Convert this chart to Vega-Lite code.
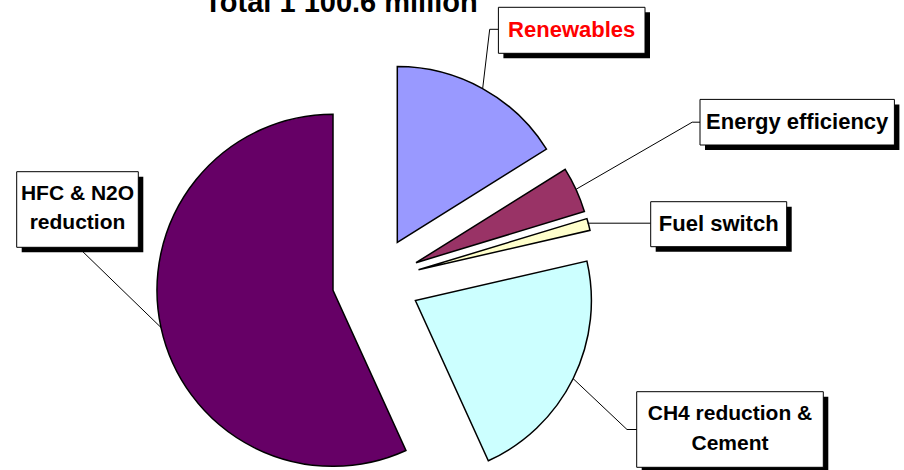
{
  "$schema": "https://vega.github.io/schema/vega-lite/v6.json",
  "width": 752,
  "height": 378,
  "padding": {"left": 0, "top": 92, "right": 152, "bottom": 0},
  "autosize": {"type": "none"},
  "background": "white",
  "config": {"view": {"stroke": null}, "font": "Liberation Sans"},
  "data": {
    "values": [
      {"order": 1, "sector": "Renewables", "share": 16.1},
      {"order": 2, "sector": "Energy efficiency", "share": 4.2},
      {"order": 3, "sector": "Fuel switch", "share": 1.1},
      {"order": 4, "sector": "CH4 reduction &\nCement", "share": 21.8},
      {"order": 5, "sector": "HFC & N2O\nreduction", "share": 56.8}
    ]
  },
  "transform": [
    {"stack": "share", "groupby": [], "sort": [{"field": "order", "order": "ascending"}], "as": ["s0", "s1"]}
  ],
  "layer": [
    {
      "transform": [{"filter": "datum.order === 1"}],
      "layer": [
        {"mark": {"type": "arc", "radius": 176, "xOffset": 21.3, "yOffset": -38.5, "fill": "#9999FF", "stroke": "black", "strokeWidth": 1.5},
         "encoding": {"theta": {"field": "s0", "type": "quantitative", "scale": {"domain": [0, 100]}}, "theta2": {"field": "s1"}}},
        {"mark": {"type": "point", "shape": "M-89,58L-82,-1H-73", "size": 4, "filled": false, "stroke": "black", "strokeWidth": 1, "opacity": 1, "xOffset": 195.7, "yOffset": -250.7}, "encoding": {}},
        {"mark": {"type": "point", "shape": "M-73.3,-23H73.3V23H-73.3Z", "size": 4, "filled": true, "fill": "black", "opacity": 1, "xOffset": 200.7, "yOffset": -245.7}, "encoding": {}},
        {"mark": {"type": "point", "shape": "M-73.3,-23H73.3V23H-73.3Z", "size": 4, "filled": true, "fill": "white", "stroke": "black", "strokeWidth": 1, "opacity": 1, "xOffset": 195.7, "yOffset": -250.7}, "encoding": {}},
        {"mark": {"type": "text", "fontSize": 22, "fontWeight": "bold", "fill": "#FF0000", "lineBreak": "\n", "xOffset": 195.7, "yOffset": -251}, "encoding": {"text": {"field": "sector"}}}
      ]
    },
    {
      "transform": [{"filter": "datum.order === 2"}],
      "layer": [
        {"mark": {"type": "arc", "radius": 176, "xOffset": 40.0, "yOffset": -18.3, "fill": "#993366", "stroke": "black", "strokeWidth": 1.5},
         "encoding": {"theta": {"field": "s0", "type": "quantitative", "scale": {"domain": [0, 100]}}, "theta2": {"field": "s1"}}},
        {"mark": {"type": "point", "shape": "M-221,67L-105,0H-97", "size": 4, "filled": false, "stroke": "black", "strokeWidth": 1, "opacity": 1, "xOffset": 421.2, "yOffset": -158.8}, "encoding": {}},
        {"mark": {"type": "point", "shape": "M-97.2,-22.8H97.2V22.8H-97.2Z", "size": 4, "filled": true, "fill": "black", "opacity": 1, "xOffset": 426.2, "yOffset": -153.8}, "encoding": {}},
        {"mark": {"type": "point", "shape": "M-97.2,-22.8H97.2V22.8H-97.2Z", "size": 4, "filled": true, "fill": "white", "stroke": "black", "strokeWidth": 1, "opacity": 1, "xOffset": 421.2, "yOffset": -158.8}, "encoding": {}},
        {"mark": {"type": "text", "fontSize": 22, "fontWeight": "bold", "fill": "black", "lineBreak": "\n", "xOffset": 421.2, "yOffset": -159.5}, "encoding": {"text": {"field": "sector"}}}
      ]
    },
    {
      "transform": [{"filter": "datum.order === 3"}],
      "layer": [
        {"mark": {"type": "arc", "radius": 176, "xOffset": 42.5, "yOffset": -11.2, "fill": "#FFFFCC", "stroke": "black", "strokeWidth": 1.5},
         "encoding": {"theta": {"field": "s0", "type": "quantitative", "scale": {"domain": [0, 100]}}, "theta2": {"field": "s1"}}},
        {"mark": {"type": "point", "shape": "M-131,-1H-68", "size": 4, "filled": false, "stroke": "black", "strokeWidth": 1, "opacity": 1, "xOffset": 342.7, "yOffset": -56.8}, "encoding": {}},
        {"mark": {"type": "point", "shape": "M-68,-22.5H68V22.5H-68Z", "size": 4, "filled": true, "fill": "black", "opacity": 1, "xOffset": 347.7, "yOffset": -51.8}, "encoding": {}},
        {"mark": {"type": "point", "shape": "M-68,-22.5H68V22.5H-68Z", "size": 4, "filled": true, "fill": "white", "stroke": "black", "strokeWidth": 1, "opacity": 1, "xOffset": 342.7, "yOffset": -56.8}, "encoding": {}},
        {"mark": {"type": "text", "fontSize": 22, "fontWeight": "bold", "fill": "black", "lineBreak": "\n", "xOffset": 342.7, "yOffset": -57.5}, "encoding": {"text": {"field": "sector"}}}
      ]
    },
    {
      "transform": [{"filter": "datum.order === 4"}],
      "layer": [
        {"mark": {"type": "arc", "radius": 176, "xOffset": 39.4, "yOffset": 19.6, "fill": "#CCFFFF", "stroke": "black", "strokeWidth": 1.5},
         "encoding": {"theta": {"field": "s0", "type": "quantitative", "scale": {"domain": [0, 100]}}, "theta2": {"field": "s1"}}},
        {"mark": {"type": "point", "shape": "M-157,-51L-103,0H-93", "size": 4, "filled": false, "stroke": "black", "strokeWidth": 1, "opacity": 1, "xOffset": 354, "yOffset": 148.5}, "encoding": {}},
        {"mark": {"type": "point", "shape": "M-93.3,-37.8H93.3V37.8H-93.3Z", "size": 4, "filled": true, "fill": "black", "opacity": 1, "xOffset": 359, "yOffset": 153.5}, "encoding": {}},
        {"mark": {"type": "point", "shape": "M-93.3,-37.8H93.3V37.8H-93.3Z", "size": 4, "filled": true, "fill": "white", "stroke": "black", "strokeWidth": 1, "opacity": 1, "xOffset": 354, "yOffset": 148.5}, "encoding": {}},
        {"mark": {"type": "text", "fontSize": 21, "fontWeight": "bold", "fill": "black", "lineBreak": "\n", "lineHeight": 30, "xOffset": 354, "yOffset": 132.5}, "encoding": {"text": {"field": "sector"}}}
      ]
    },
    {
      "transform": [{"filter": "datum.order === 5"}],
      "layer": [
        {"mark": {"type": "arc", "radius": 176, "xOffset": -43.0, "yOffset": 9.3, "fill": "#660066", "stroke": "black", "strokeWidth": 1.5},
         "encoding": {"theta": {"field": "s0", "type": "quantitative", "scale": {"domain": [0, 100]}}, "theta2": {"field": "s1"}}},
        {"mark": {"type": "point", "shape": "M1,38L83.5,118", "size": 4, "filled": false, "stroke": "black", "strokeWidth": 1, "opacity": 1, "xOffset": -298.5, "yOffset": -71.5}, "encoding": {}},
        {"mark": {"type": "point", "shape": "M-60.8,-37.8H60.8V37.8H-60.8Z", "size": 4, "filled": true, "fill": "black", "opacity": 1, "xOffset": -293.5, "yOffset": -66.5}, "encoding": {}},
        {"mark": {"type": "point", "shape": "M-60.8,-37.8H60.8V37.8H-60.8Z", "size": 4, "filled": true, "fill": "white", "stroke": "black", "strokeWidth": 1, "opacity": 1, "xOffset": -298.5, "yOffset": -71.5}, "encoding": {}},
        {"mark": {"type": "text", "fontSize": 21, "fontWeight": "bold", "fill": "black", "lineBreak": "\n", "lineHeight": 29, "xOffset": -298.5, "yOffset": -87.5}, "encoding": {"text": {"field": "sector"}}}
      ]
    },
    {
      "data": {"values": [{"title": "Total 1 100.6 million"}]},
      "mark": {"type": "text", "fontSize": 29, "fontWeight": "bold", "fill": "black", "baseline": "alphabetic", "xOffset": -35, "yOffset": -269},
      "encoding": {"text": {"field": "title"}}
    }
  ]
}
